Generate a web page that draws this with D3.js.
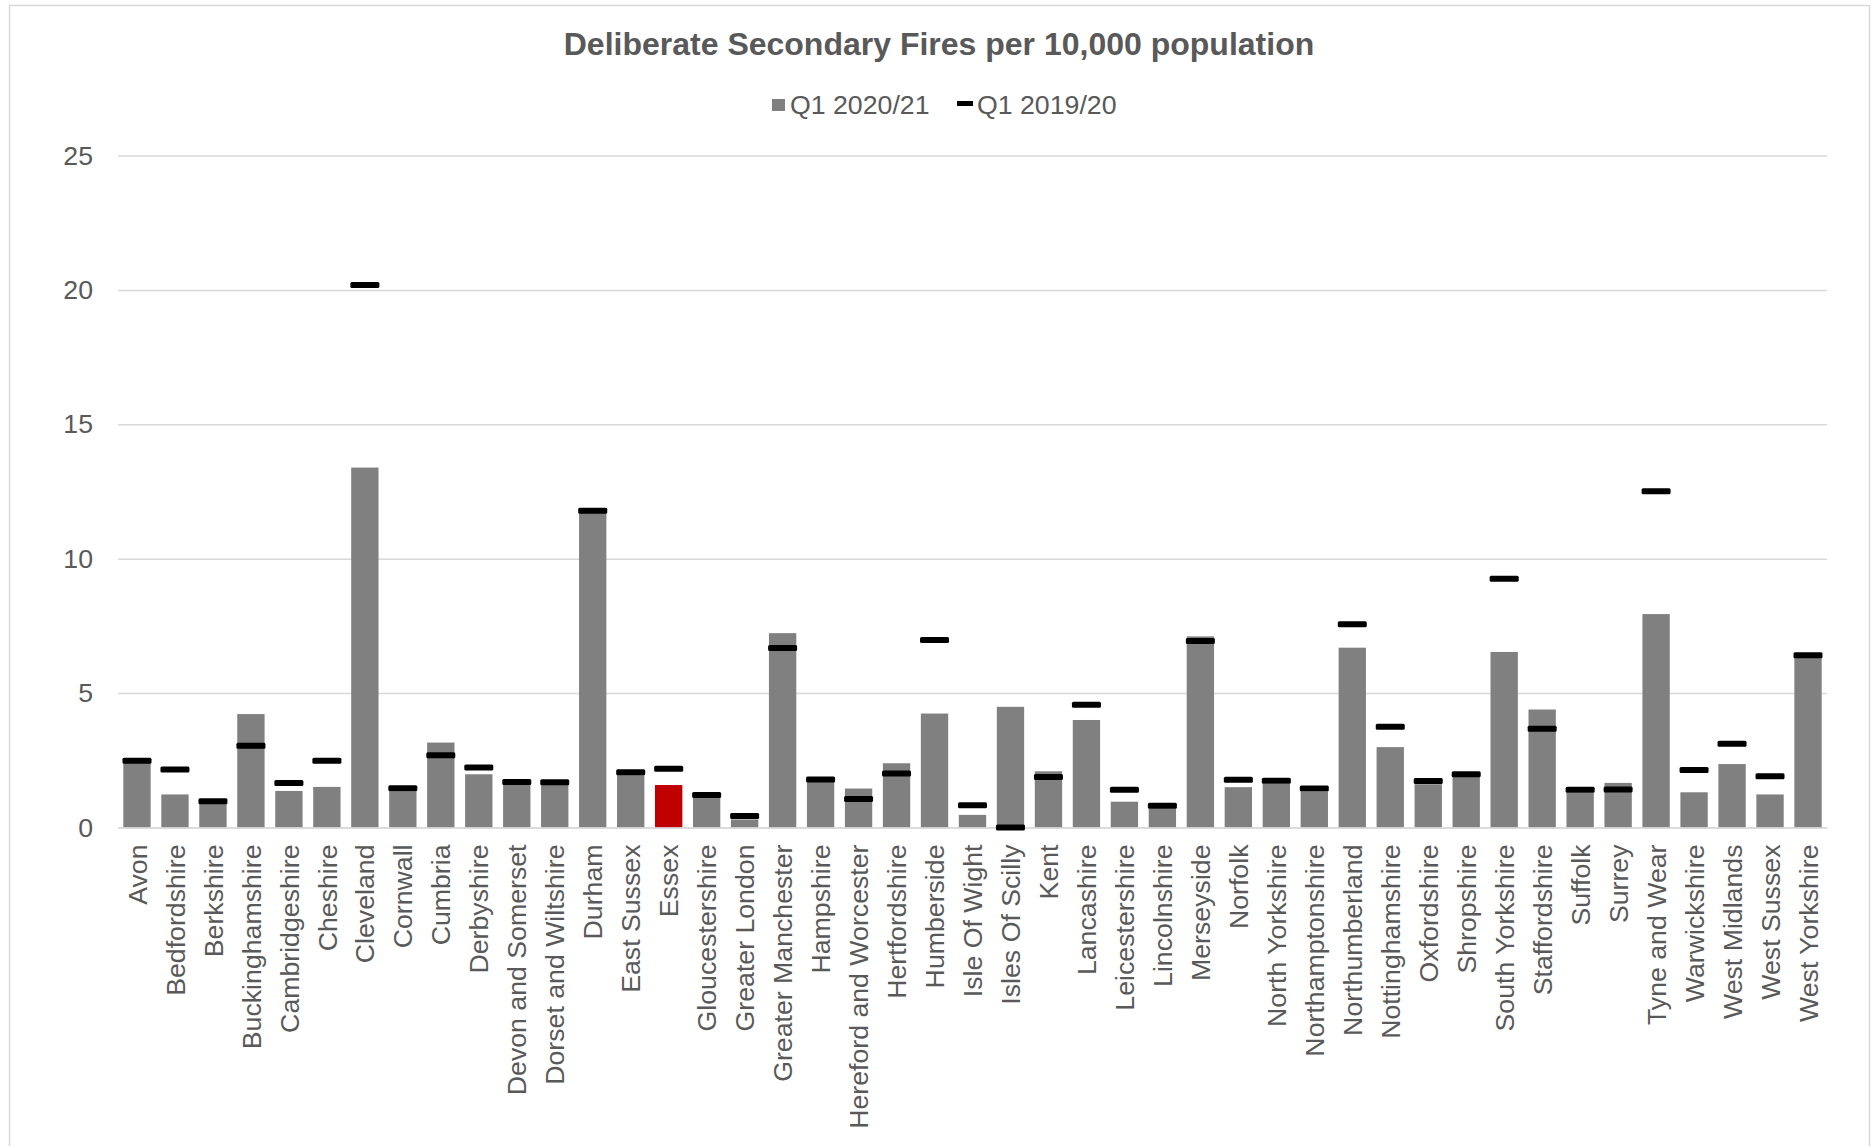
<!DOCTYPE html>
<html>
<head>
<meta charset="utf-8">
<script src="https://cdn.jsdelivr.net/npm/d3@7"></script>
<style>
  html, body { margin: 0; padding: 0; background: #fff; }
  svg { display: block; }
  text { font-family: "Liberation Sans", Arial, sans-serif; fill: #595959; }
</style>
</head>
<body>
<svg id="chart" width="1872" height="1146"></svg>
<script>
const categories = ["Avon","Bedfordshire","Berkshire","Buckinghamshire","Cambridgeshire","Cheshire","Cleveland","Cornwall","Cumbria","Derbyshire","Devon and Somerset","Dorset and Wiltshire","Durham","East Sussex","Essex","Gloucestershire","Greater London","Greater Manchester","Hampshire","Hereford and Worcester","Hertfordshire","Humberside","Isle Of Wight","Isles Of Scilly","Kent","Lancashire","Leicestershire","Lincolnshire","Merseyside","Norfolk","North Yorkshire","Northamptonshire","Northumberland","Nottinghamshire","Oxfordshire","Shropshire","South Yorkshire","Staffordshire","Suffolk","Surrey","Tyne and Wear","Warwickshire","West Midlands","West Sussex","West Yorkshire"];

const q1_2020_21 = [2.40,1.23,0.90,4.22,1.36,1.51,13.39,1.35,3.16,1.98,1.60,1.60,11.70,1.95,1.58,1.10,0.30,7.23,1.70,1.45,2.39,4.24,0.47,4.49,2.09,4.00,0.96,0.71,7.11,1.50,1.63,1.33,6.69,2.99,1.61,1.90,6.53,4.39,1.30,1.66,7.94,1.31,2.36,1.23,6.31];

const q1_2019_20 = [2.48,2.16,0.98,3.04,1.66,2.48,20.18,1.46,2.69,2.23,1.69,1.68,11.78,2.06,2.19,1.21,0.43,6.68,1.79,1.06,2.01,6.98,0.83,0.00,1.88,4.57,1.40,0.81,6.94,1.78,1.74,1.45,7.56,3.75,1.73,1.98,9.25,3.67,1.40,1.41,12.51,2.14,3.12,1.91,6.41];

const yTicks = [0, 5, 10, 15, 20, 25];
const seriesNames = ["Q1 2020/21", "Q1 2019/20"];
const highlight = "Essex";

const svg = d3.select("#chart");

// outer chart border
svg.append("rect")
  .attr("x", 9.5).attr("y", 5.5)
  .attr("width", 1860).attr("height", 1160)
  .attr("fill", "none").attr("stroke", "#d9d9d9").attr("stroke-width", 1.5);

const plotLeft = 118, plotRight = 1827, plotTop = 155.5, plotBottom = 827.5;

const x = d3.scaleBand().domain(categories).range([plotLeft, plotRight])
  .paddingInner(0.28).paddingOuter(0.14);
const y = d3.scaleLinear().domain([0, 25]).range([plotBottom, plotTop]);

// gridlines + y labels
const yAxis = svg.append("g")
  .attr("transform", `translate(${plotLeft},0)`)
  .call(d3.axisLeft(y).tickValues(yTicks).tickSize(-(plotRight - plotLeft)).tickPadding(25));
yAxis.select(".domain").remove();
yAxis.selectAll(".tick line").attr("stroke", "#d9d9d9").attr("stroke-width", 1.5);
yAxis.selectAll(".tick text")
  .attr("font-size", "26.7px")
  .style("font-family", "'Liberation Sans', Arial, sans-serif")
  .attr("fill", "#595959");

// bars
svg.append("g").selectAll("rect")
  .data(categories)
  .join("rect")
  .attr("x", d => x(d))
  .attr("width", x.bandwidth())
  .attr("y", (d, i) => y(q1_2020_21[i]))
  .attr("height", (d, i) => y(0) - y(q1_2020_21[i]))
  .attr("fill", d => d === highlight ? "#C00000" : "#808080");

// x axis
const xAxis = svg.append("g")
  .attr("transform", `translate(0,${plotBottom})`)
  .call(d3.axisBottom(x).tickSize(0));
xAxis.select(".domain").attr("stroke", "#d9d9d9").attr("stroke-width", 1.5);
xAxis.selectAll(".tick text")
  .attr("transform", "rotate(-90)")
  .attr("x", -17)
  .attr("y", 0)
  .attr("dy", "0.36em")
  .attr("text-anchor", "end")
  .attr("font-size", "26.7px")
  .style("font-family", "'Liberation Sans', Arial, sans-serif")
  .attr("fill", "#595959");

// markers (previous year)
const mw = 29, mh = 6;
svg.append("g").selectAll("rect")
  .data(categories)
  .join("rect")
  .attr("x", d => x(d) + x.bandwidth() / 2 - mw / 2)
  .attr("y", (d, i) => y(q1_2019_20[i]) - mh / 2)
  .attr("width", mw).attr("height", mh)
  .attr("rx", 1.5)
  .attr("fill", "#000");

// title
svg.append("text")
  .attr("x", 939).attr("y", 55)
  .attr("text-anchor", "middle")
  .attr("font-size", "32px")
  .attr("font-weight", "bold")
  .text("Deliberate Secondary Fires per 10,000 population");

// legend
const lg = svg.append("g");
lg.append("rect").attr("x", 772).attr("y", 99).attr("width", 13).attr("height", 12).attr("fill", "#808080");
lg.append("text").attr("x", 790).attr("y", 114).attr("font-size", "26.7px").text(seriesNames[0]);
lg.append("rect").attr("x", 957).attr("y", 101).attr("width", 16).attr("height", 5).attr("fill", "#000");
lg.append("text").attr("x", 977).attr("y", 114).attr("font-size", "26.7px").text(seriesNames[1]);
</script>
</body>
</html>
